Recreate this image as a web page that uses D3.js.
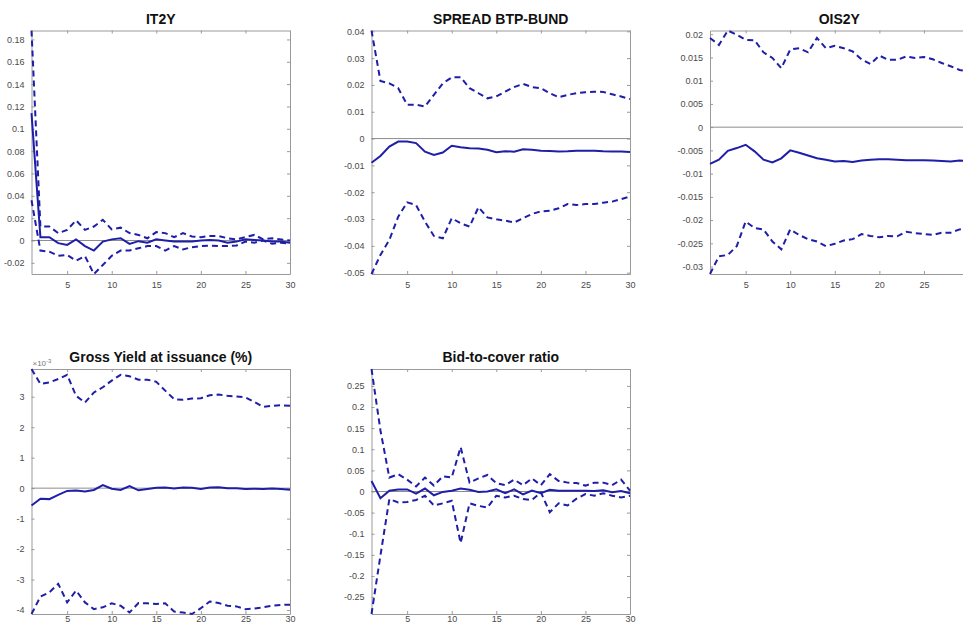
<!DOCTYPE html>
<html>
<head>
<meta charset="utf-8">
<script src="https://cdn.jsdelivr.net/npm/d3@7"></script>
<style>
  html, body { margin: 0; padding: 0; background: #fff; }
  svg { display: block; }
</style>
</head>
<body>
<svg id="chart" width="963" height="624"></svg>
<script>
// Impulse responses over 30 horizons: median with lower/upper bands
const horizons = d3.range(1, 31);
const xTicks = [5, 10, 15, 20, 25, 30];

// IT2Y
const it2yMedian = [0.114, 0.003, 0.003, -0.0024, -0.004, 0.001, -0.005, -0.009, -0.001, 0.001,
  0.002, -0.003, -0.0006, -0.002, 0.001, 0, -0.001, -0.001, -0.001, 0,
  0.0005, 0, -0.002, -0.001, 0.001, 0.0005, 0, -0.001, -0.001, -0.002];
const it2yUpper = [0.188, 0.0125, 0.0125, 0.0066, 0.0095, 0.018, 0.0095, 0.0125, 0.0185, 0.010,
  0.0115, 0.0066, 0.005, 0.002, 0.0075, 0.0066, 0.003, 0.0066, 0.0036, 0.003,
  0.004, 0.004, 0.002, 0.001, 0.003, 0.005, 0.001, 0.002, 0.001, 0];
const it2yLower = [0.036, -0.009, -0.010, -0.0137, -0.013, -0.018, -0.014, -0.030, -0.022, -0.0137,
  -0.009, -0.009, -0.007, -0.005, -0.005, -0.009, -0.005, -0.008, -0.006, -0.005,
  -0.0045, -0.005, -0.005, -0.0045, -0.001, -0.002, 0, -0.003, -0.002, -0.003];
const it2yTicks = [-0.02, 0, 0.02, 0.04, 0.06, 0.08, 0.1, 0.12, 0.14, 0.16, 0.18];

// SPREAD BTP-BUND
const spreadMedian = [-0.009, -0.0065, -0.003, -0.0011, -0.0011, -0.0017, -0.0049, -0.0061, -0.0052, -0.0027,
  -0.0032, -0.0036, -0.0037, -0.0042, -0.0051, -0.0047, -0.0049, -0.004, -0.0042, -0.0045,
  -0.0046, -0.0048, -0.0047, -0.0045, -0.0045, -0.0045, -0.0047, -0.0048, -0.0048, -0.005];
const spreadUpper = [0.0403, 0.0215, 0.0206, 0.0188, 0.0126, 0.0126, 0.012, 0.0163, 0.0206, 0.0228,
  0.0229, 0.0188, 0.0169, 0.015, 0.0157, 0.0175, 0.0192, 0.0204, 0.0192, 0.0188,
  0.0169, 0.0154, 0.0163, 0.0169, 0.0173, 0.0175, 0.0174, 0.0165, 0.0157, 0.0147];
const spreadLower = [-0.0505, -0.0434, -0.0378, -0.0291, -0.0238, -0.0248, -0.031, -0.0363, -0.0372, -0.0297,
  -0.0316, -0.0328, -0.0256, -0.0294, -0.0301, -0.0306, -0.0313, -0.0297, -0.0281, -0.0272,
  -0.0269, -0.026, -0.0244, -0.0248, -0.0244, -0.0244, -0.0239, -0.0235, -0.0226, -0.0216];
const spreadTicks = [-0.05, -0.04, -0.03, -0.02, -0.01, 0, 0.01, 0.02, 0.03, 0.04];

// OIS2Y
const oisMedian = [-0.0079, -0.007, -0.0051, -0.0045, -0.0038, -0.0052, -0.007, -0.0076, -0.0067, -0.005,
  -0.0055, -0.0061, -0.0067, -0.007, -0.0074, -0.0073, -0.0075, -0.0072, -0.007, -0.0069,
  -0.0069, -0.007, -0.0071, -0.0071, -0.0071, -0.0072, -0.0073, -0.0074, -0.0072, -0.0073];
const oisUpper = [0.0192, 0.0177, 0.0208, 0.0199, 0.0188, 0.0187, 0.0161, 0.0149, 0.0127, 0.0167,
  0.017, 0.0161, 0.0192, 0.017, 0.0175, 0.017, 0.0163, 0.0146, 0.0136, 0.0154,
  0.0145, 0.0145, 0.0152, 0.0149, 0.0151, 0.0146, 0.0138, 0.0131, 0.0123, 0.012];
const oisLower = [-0.0316, -0.0278, -0.0275, -0.0256, -0.0203, -0.0217, -0.022, -0.0246, -0.0263, -0.022,
  -0.0232, -0.0241, -0.0246, -0.0256, -0.0251, -0.0244, -0.0241, -0.023, -0.0234, -0.0237,
  -0.0234, -0.0235, -0.0225, -0.0228, -0.023, -0.0232, -0.0227, -0.0227, -0.022, -0.0218];
const oisTicks = [-0.03, -0.025, -0.02, -0.015, -0.01, -0.005, 0, 0.005, 0.01, 0.015, 0.02];

// Gross Yield at issuance (%), in units of 1e-3
const yieldMedian = [-0.57, -0.35, -0.36, -0.22, -0.09, -0.08, -0.11, -0.06, 0.10, -0.02,
  -0.06, 0.07, -0.07, -0.03, 0.01, 0.02, -0.01, 0.02, 0.01, -0.03,
  0.02, 0.03, 0, 0, -0.03, -0.02, -0.03, -0.01, -0.03, -0.05];
const yieldUpper = [3.91, 3.42, 3.47, 3.58, 3.72, 3.03, 2.81, 3.14, 3.31, 3.53,
  3.72, 3.67, 3.56, 3.56, 3.49, 3.20, 2.92, 2.90, 2.94, 2.95,
  3.05, 3.07, 3.03, 3.01, 2.98, 2.83, 2.67, 2.70, 2.72, 2.70];
const yieldLower = [-4.13, -3.56, -3.42, -3.14, -3.75, -3.36, -3.75, -3.97, -3.91, -3.78,
  -3.86, -4.08, -3.77, -3.78, -3.80, -3.78, -4.05, -4.08, -4.13, -3.94,
  -3.72, -3.77, -3.86, -3.88, -3.97, -3.95, -3.91, -3.86, -3.83, -3.83];
const yieldTicks = [-4, -3, -2, -1, 0, 1, 2, 3];

// Bid-to-cover ratio
const btcMedian = [0.025, -0.016, 0.002, 0.005, 0.005, -0.005, 0.007, -0.009, -0.001, 0.002,
  0.007, 0.004, -0.001, 0, 0.005, -0.004, 0.005, -0.007, 0.002, -0.004,
  0.004, 0.002, 0.002, 0.002, 0.002, 0.001, 0.003, -0.002, 0.001, -0.004];
const btcUpper = [0.29, 0.145, 0.033, 0.041, 0.028, 0.012, 0.033, 0.014, 0.036, 0.033,
  0.105, 0.021, 0.031, 0.039, 0.020, 0.015, 0.028, 0.015, 0.031, 0.015,
  0.041, 0.025, 0.021, 0.020, 0.014, 0.021, 0.021, 0.015, 0.028, 0.002];
const btcLower = [-0.29, -0.152, -0.018, -0.026, -0.025, -0.02, -0.01, -0.033, -0.028, -0.022,
  -0.122, -0.028, -0.034, -0.038, -0.010, -0.014, -0.010, -0.018, -0.02, -0.002,
  -0.049, -0.028, -0.033, -0.017, -0.006, -0.010, -0.004, -0.010, -0.014, -0.010];
const btcTicks = [-0.25, -0.2, -0.15, -0.1, -0.05, 0, 0.05, 0.1, 0.15, 0.2, 0.25];

const titles = ["IT2Y", "SPREAD BTP-BUND", "OIS2Y", "Gross Yield at issuance (%)", "Bid-to-cover ratio"];

const panels = [
  { title: titles[0], median: it2yMedian, upper: it2yUpper, lower: it2yLower, yTicks: it2yTicks, left: 31.5, top: 30.5, bottom: 274, xPad: 8 },
  { title: titles[1], median: spreadMedian, upper: spreadUpper, lower: spreadLower, yTicks: spreadTicks, left: 371.5, top: 30.5, bottom: 274, xPad: 8 },
  { title: titles[2], median: oisMedian, upper: oisUpper, lower: oisLower, yTicks: oisTicks, left: 710, top: 30.5, bottom: 274, xPad: 8 },
  { title: titles[3], median: yieldMedian, upper: yieldUpper, lower: yieldLower, yTicks: yieldTicks, left: 31.5, top: 369, bottom: 614, xPad: 1.5, exponent: "-3" },
  { title: titles[4], median: btcMedian, upper: btcUpper, lower: btcLower, yTicks: btcTicks, left: 371.5, top: 369, bottom: 614, xPad: 1.5 }
];

const pageWidth = 963;
const plotWidth = 258.5;
const lineColor = "#1e1ea8";
const axisColor = "#9a9a9a";
const labelColor = "#4a4a4a";
const fmt = v => String(+v.toFixed(4));

const svg = d3.select("#chart");

panels.forEach(p => {
  const g = svg.append("g");
  const right = p.left + plotWidth;
  const allVals = p.median.concat(p.upper, p.lower);
  const x = d3.scaleLinear().domain([1, 30]).range([p.left, right]);
  const y = d3.scaleLinear().domain(d3.extent(allVals)).range([p.bottom, p.top]);

  // horizon labels that fall past the page edge are left out
  const xLabelTicks = xTicks.filter(t => x(t) + 6 <= pageWidth);

  // Box and inward ticks on all four sides
  const tickLen = 3;
  const axisLeft = d3.axisLeft(y).tickValues(p.yTicks).tickFormat(fmt).tickSizeInner(-tickLen).tickSizeOuter(0).tickPadding(7);
  const axisBottom = d3.axisBottom(x).tickValues(xLabelTicks).tickFormat(d3.format("d")).tickSizeInner(-tickLen).tickSizeOuter(0).tickPadding(p.xPad);
  const axisTop = d3.axisTop(x).tickValues(xTicks).tickFormat("").tickSizeInner(-tickLen).tickSizeOuter(0);
  const axisRight = d3.axisRight(y).tickValues(p.yTicks).tickFormat("").tickSizeInner(-tickLen).tickSizeOuter(0);

  const gl = g.append("g").attr("transform", `translate(${p.left},0)`).call(axisLeft);
  const gb = g.append("g").attr("transform", `translate(0,${p.bottom})`).call(axisBottom);
  const gt = g.append("g").attr("transform", `translate(0,${p.top})`).call(axisTop);
  const gr = g.append("g").attr("transform", `translate(${right},0)`).call(axisRight);

  [gl, gb, gt, gr].forEach(a => {
    a.select(".domain").attr("stroke", axisColor).attr("stroke-width", 1);
    a.selectAll(".tick line").attr("stroke", axisColor).attr("stroke-width", 1);
    a.selectAll(".tick text")
      .attr("fill", labelColor)
      .style("font-family", "'Liberation Sans', Arial, sans-serif")
      .style("font-size", "9px");
  });

  // Zero reference line
  g.append("line")
    .attr("x1", p.left).attr("x2", right)
    .attr("y1", y(0)).attr("y2", y(0))
    .attr("stroke", "#8c8c8c").attr("stroke-width", 1);

  const line = d3.line().x((d, i) => x(horizons[i])).y(d => y(d));

  g.append("path").datum(p.upper)
    .attr("d", line).attr("fill", "none")
    .attr("stroke", lineColor).attr("stroke-width", 2)
    .attr("stroke-dasharray", "6,4");
  g.append("path").datum(p.lower)
    .attr("d", line).attr("fill", "none")
    .attr("stroke", lineColor).attr("stroke-width", 2)
    .attr("stroke-dasharray", "6,4");
  g.append("path").datum(p.median)
    .attr("d", line).attr("fill", "none")
    .attr("stroke", lineColor).attr("stroke-width", 2);

  g.append("text")
    .attr("x", (p.left + right) / 2)
    .attr("y", p.top - 7)
    .attr("text-anchor", "middle")
    .attr("fill", "#111")
    .style("font-family", "'Liberation Sans', Arial, sans-serif")
    .style("font-weight", "bold")
    .style("font-size", "14px")
    .text(p.title);

  if (p.exponent) {
    const t = g.append("text")
      .attr("x", p.left + 1)
      .attr("y", p.top - 3)
      .attr("fill", "#777")
      .style("font-family", "'Liberation Sans', Arial, sans-serif")
      .style("font-size", "8px");
    t.append("tspan").text("\u00d710");
    t.append("tspan").attr("dy", -3).style("font-size", "6px").text(p.exponent);
  }
});
</script>
</body>
</html>
